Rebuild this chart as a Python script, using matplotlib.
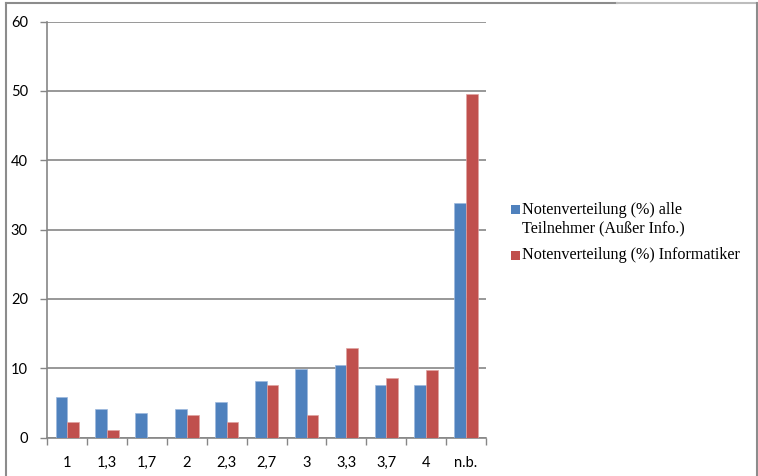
import matplotlib
matplotlib.use("Agg")
import matplotlib.pyplot as plt
from matplotlib.patches import Rectangle
from matplotlib.lines import Line2D
import numpy as np

categories = ["1", "1,3", "1,7", "2", "2,3", "2,7", "3", "3,3", "3,7", "4", "n.b."]
alle_teilnehmer = [5.8, 4.1, 3.5, 4.1, 5.2, 8.2, 9.9, 10.5, 7.6, 7.6, 33.8]
informatiker = [2.2, 1.1, 0.0, 3.3, 2.2, 7.6, 3.3, 12.9, 8.6, 9.7, 49.5]
series_labels = ["Notenverteilung (%) alle\nTeilnehmer (Außer Info.)",
                 "Notenverteilung (%) Informatiker"]
y_ticks = [0, 10, 20, 30, 40, 50, 60]

blue = "#4F81BD"
red = "#C0504D"
grid_col = "#868686"

W, H = 758, 476
fig = plt.figure(figsize=(W / 100, H / 100), dpi=100)
ax = fig.add_axes([47.3 / W, 1 - 437.7 / H, (486 - 47.3) / W, (437.7 - 21.5) / H])

x = np.arange(len(categories))
bw = 0.293
ax.bar(x - bw / 2, alle_teilnehmer, bw, color=blue, edgecolor="#9DB9DD", linewidth=0.5, zorder=3)
ax.bar(x + bw / 2, informatiker, bw, color=red, edgecolor="#E0A3A1", linewidth=0.5, zorder=3)

ax.set_xlim(-0.5, len(categories) - 0.5)
ax.set_ylim(0, 60)
ax.set_yticks(y_ticks)
ax.set_yticklabels([str(v) for v in y_ticks], family="Lato", fontsize=10.5, color="#000000")
ax.yaxis.grid(True, color=grid_col, linewidth=1.2, zorder=0)
ax.set_axisbelow(True)

# category labels centred, tick marks on the category boundaries
ax.set_xticks(x)
ax.set_xticklabels(categories, family="Lato", fontsize=10.5)
ax.tick_params(axis="x", length=0, pad=13)
ax.set_xticks(np.arange(-0.5, len(categories)), minor=True)
ax.tick_params(axis="x", which="minor", length=5, width=1, color=grid_col, direction="out")
ax.tick_params(axis="y", length=5, width=1, color=grid_col, direction="out", pad=9)

for side in ["top", "right"]:
    ax.spines[side].set_visible(False)
for side in ["left", "bottom"]:
    ax.spines[side].set_color(grid_col)
    ax.spines[side].set_linewidth(1.2)

# legend drawn in figure pixel coordinates
def px(xp, yp):
    return xp / W, 1 - yp / H

sq = 9
for (yc, col) in [(209.5, blue), (255, red)]:
    x0, y0 = px(511, yc + sq / 2)
    fig.patches.append(Rectangle((x0, y0), sq / W, sq / H, transform=fig.transFigure,
                                 facecolor=col, edgecolor="none"))
serif = "Liberation Serif"
fs = 11.6
tx, ty = px(522.5, 210)
fig.text(tx, ty, series_labels[0].split("\n")[0], family=serif, fontsize=fs, va="center")
tx, ty = px(522.5, 228)
fig.text(tx, ty, series_labels[0].split("\n")[1], family=serif, fontsize=fs, va="center")
tx, ty = px(522.5, 255)
fig.text(tx, ty, series_labels[1], family=serif, fontsize=fs, va="center")

# outer chart frame
frame = [((5.7, 476), (5.7, 2.7), "#8C8C8C"),
         ((5.7, 2.7), (617, 2.7), "#8C8C8C"),
         ((617, 3.2), (756.7, 3.2), "#BDBDBD"),
         ((756.7, 3.2), (756.7, 476), "#8C8C8C")]
for (a, b, col) in frame:
    xa, ya = px(*a)
    xb, yb = px(*b)
    fig.add_artist(Line2D([xa, xb], [ya, yb], transform=fig.transFigure, color=col, linewidth=1.5))

fig.savefig("out.png", dpi=100)
